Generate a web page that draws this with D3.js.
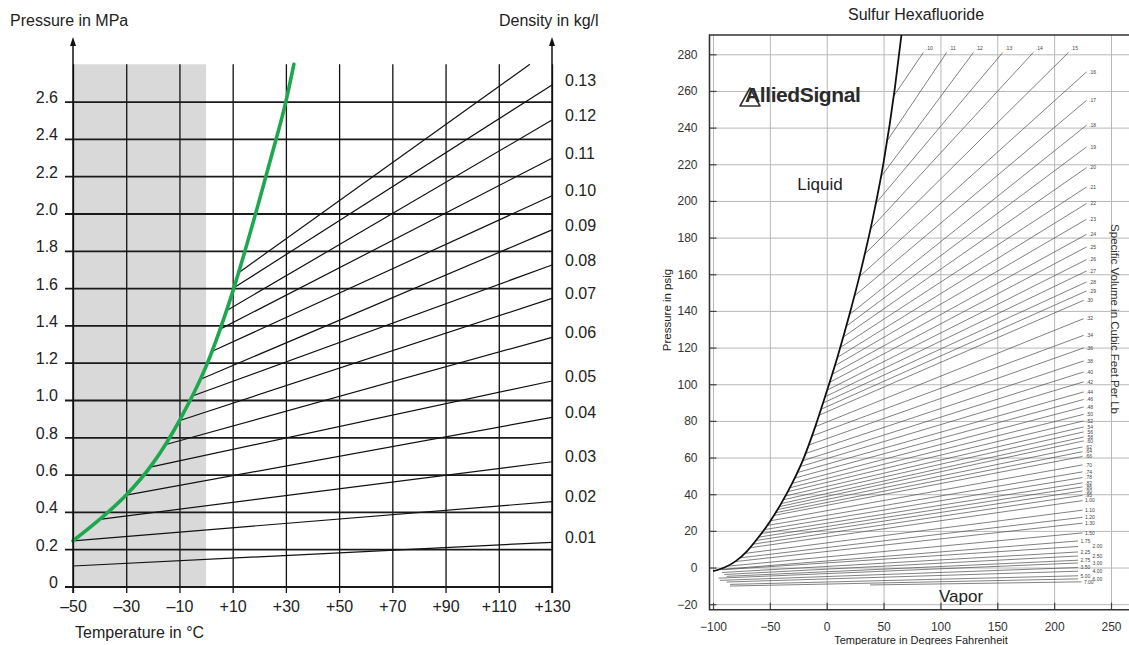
<!DOCTYPE html>
<html>
<head>
<meta charset="utf-8">
<script src="https://cdn.jsdelivr.net/npm/d3@7"></script>
<style>
  html, body { margin: 0; padding: 0; background: #fff; }
  svg { display: block; font-family: "Liberation Sans", Arial, Helvetica, sans-serif; }
</style>
</head>
<body>
<svg id="chart" width="1129" height="645"></svg>
<script>
// ---------- left chart: SF6 density lines, metric ----------
const tempTicks = [-50, -30, -10, 10, 30, 50, 70, 90, 110, 130];
const tempTickLabels = ['–50', '–30', '–10', '+10', '+30', '+50', '+70', '+90', '+110', '+130'];
const pressTicks = [0, 0.2, 0.4, 0.6, 0.8, 1.0, 1.2, 1.4, 1.6, 1.8, 2.0, 2.2, 2.4, 2.6];
const pressTickLabels = ['0', '0.2', '0.4', '0.6', '0.8', '1.0', '1.2', '1.4', '1.6', '1.8', '2.0', '2.2', '2.4', '2.6'];

// saturation (green) curve, °C / MPa
const satTempC = [-50, -40, -30, -20, -10, 0, 10, 20, 25, 30, 33];
const satPressMPa = [0.245, 0.36, 0.49, 0.66, 0.89, 1.18, 1.58, 2.07, 2.33, 2.60, 2.8];

// density lines (kg/l); last one runs out at the top and has no label
const densLabels = ['0.01', '0.02', '0.03', '0.04', '0.05', '0.06', '0.07', '0.08', '0.09', '0.10', '0.11', '0.12', '0.13', ''];
const densStartT = [-50, -50, -40, -30, -21, -15.4, -9.8, -5.4, -2.3, 2.1, 5.3, 7.8, 10.3, 12];
const densStartP = [0.11, 0.245, 0.36, 0.49, 0.64, 0.76, 0.89, 1.02, 1.11, 1.26, 1.38, 1.48, 1.60, 1.68];
const densEndT = [130, 130, 130, 130, 130, 130, 130, 130, 130, 130, 130, 130, 130, 121.7];
const densEndP = [0.237, 0.455, 0.669, 0.907, 1.102, 1.336, 1.545, 1.724, 1.912, 2.095, 2.296, 2.501, 2.689, 2.8];

// ---------- right chart: Sulfur Hexafluoride, imperial ----------
const fTicks = [-100, -50, 0, 50, 100, 150, 200, 250];
const psiTicks = [-20, 0, 20, 40, 60, 80, 100, 120, 140, 160, 180, 200, 220, 240, 260, 280];

const satF = [-100, -90, -80, -70, -60, -50, -40, -30, -20, -10, 0, 10, 20, 30, 40, 50, 60, 66];
const satPsig = [-2, 0, 3.5, 9, 16.5, 25, 35, 46.5, 60, 77, 96, 116, 138, 162, 189, 221, 262, 292];

const volLabels = ['.10', '.11', '.12', '.13', '.14', '.15',
  '.16', '.17', '.18', '.19', '.20', '.21', '.22', '.23', '.24', '.25', '.26', '.27', '.28', '.29', '.30',
  '.32', '.34', '.36', '.38', '.40', '.42', '.44', '.46', '.48', '.50', '.52', '.54', '.56', '.58', '.60',
  '.62', '.64', '.66', '.70', '.74', '.78', '.82', '.86', '.90', '.95', '1.00',
  '1.10', '1.20', '1.30', '1.50', '1.75',
  '2.00', '2.25', '2.50', '2.75', '3.00', '3.50', '4.00', '5.00', '6.00', '7.00'];
const volStartF = [58.8, 52.8, 47.5, 43.0, 38.4, 33.3,
  28.6, 24.2, 20.0, 17.1, 14.4, 11.8, 9.3, 7.0, 4.7, 2.5, 0.4, -1.5, -3.3, -5.1, -6.8,
  -10.1, -13.1, -16.0, -18.7, -21.3, -23.7, -26.1, -28.3, -30.5, -32.6, -34.5, -36.5, -38.3, -40.1, -41.8,
  -43.4, -45.1, -46.6, -49.5, -52.4, -55.1, -57.6, -59.9, -62.3, -65.0, -67.6,
  -72.4, -76.8, -80.8, -88.0, -95.9,
  -92, -92, -90, -88, -95, -94, -88, -85, -85, 38];
// null = the line leaves the saturation curve
const volStartP = [null, null, null, null, null, null,
  null, null, null, null, null, null, null, null, null, null, null, null, null, null, null,
  null, null, null, null, null, null, null, null, null, null, null, null, null, null, null,
  null, null, null, null, null, null, null, null, null, null, null,
  null, null, null, null, null,
  -1.2, -2.7, -3.8, -4.8, -5.8, -7.0, -7.9, -9.2, -10.1, -9.5];
const volEndF = [85, 105.5, 129, 154.8, 181.7, 212.6,
  228.5, 228.5, 228.5, 228.5, 228.5, 228.5, 228.5, 228.5, 228.5, 228.5, 228.5, 228.5, 228.5, 228.5, 226,
  226, 226, 226, 226, 226, 226, 226, 226, 226, 226, 226, 226, 226, 226, 226,
  225, 225, 225, 225, 225, 225, 225, 225, 225, 225, 225,
  225, 225, 225, 225, 221,
  221, 221, 221, 221, 221, 221, 221, 221, 221, 224];
const volEndP = [281, 281, 281, 281, 281, 281,
  270.4, 254.9, 241.3, 229.5, 218.2, 207.6, 198.6, 190.0, 181.8, 174.9, 168.0, 161.8, 155.8, 150.9, 145.8,
  135.8, 126.7, 119.8, 112.7, 106.7, 101.3, 95.8, 91.7, 87.6, 83.6, 80.0, 76.7, 74.0, 71.2, 69.1,
  65.8, 63.2, 60.6, 56.0, 52.2, 49.1, 46.2, 44.0, 41.8, 39.4, 36.5,
  31.3, 27.4, 24.2, 18.9, 14.5,
  11.5, 8.5, 6.3, 4.0, 2.5, 0.0, -2.0, -4.5, -6.2, -7.8];

const FONT = '"Liberation Sans", Arial, Helvetica, sans-serif';
const svg = d3.select('#chart');
svg.append('rect').attr('width', 1129).attr('height', 645).attr('fill', '#fff');

// ================= LEFT =================
const lx = d3.scaleLinear().domain([-50, 130]).range([73, 552]);
const ly = d3.scaleLinear().domain([0, 2.8]).range([586.5, 64.3]);
const left = svg.append('g');

left.append('rect')
  .attr('x', lx(-50)).attr('y', ly(2.8))
  .attr('width', lx(0) - lx(-50)).attr('height', ly(0) - ly(2.8))
  .attr('fill', '#d9d9d9');

// vertical grid + temperature labels
left.append('g')
  .attr('transform', 'translate(0,593)')
  .call(d3.axisBottom(lx).tickValues(tempTicks)
    .tickFormat((d, i) => tempTickLabels[i])
    .tickSizeInner(-(593 - ly(2.8))).tickSizeOuter(0).tickPadding(8))
  .call(g => {
    g.select('.domain').remove();
    g.attr('font-family', FONT).attr('font-size', 16);
    g.selectAll('line').attr('stroke', '#111').attr('stroke-width', 1.3);
    g.selectAll('text').attr('fill', '#222');
  });

// horizontal grid + pressure labels
left.append('g')
  .attr('transform', 'translate(65,0)')
  .call(d3.axisLeft(ly).tickValues(pressTicks)
    .tickFormat((d, i) => pressTickLabels[i])
    .tickSizeInner(-(552 - 65)).tickSizeOuter(0).tickPadding(7))
  .call(g => {
    g.select('.domain').remove();
    g.attr('font-family', FONT).attr('font-size', 16);
    g.selectAll('line').attr('stroke', '#1a1a1a').attr('stroke-width', 1.8);
    g.selectAll('text').attr('fill', '#222').attr('dy', '0.06em');
  });

// density lines
left.append('g')
  .selectAll('line')
  .data(densLabels)
  .join('line')
  .attr('x1', (d, i) => lx(densStartT[i]))
  .attr('y1', (d, i) => ly(densStartP[i]))
  .attr('x2', (d, i) => lx(densEndT[i]))
  .attr('y2', (d, i) => ly(densEndP[i]))
  .attr('stroke', '#111')
  .attr('stroke-width', 1.2);

// saturation curve
const satLineL = d3.line()
  .x((d, i) => lx(satTempC[i]))
  .y((d, i) => ly(satPressMPa[i]))
  .curve(d3.curveMonotoneX);
left.append('path')
  .datum(satTempC)
  .attr('d', satLineL)
  .attr('fill', 'none')
  .attr('stroke', '#1da84f')
  .attr('stroke-width', 3.6)
  .attr('stroke-linecap', 'round');

// axes with arrow heads
[lx(-50), lx(130)].forEach(x => {
  left.append('line')
    .attr('x1', x).attr('x2', x).attr('y1', 593).attr('y2', 44)
    .attr('stroke', '#111').attr('stroke-width', 1.5);
  left.append('path')
    .attr('d', `M${x},37 L${x - 3},46 L${x + 3},46 Z`)
    .attr('fill', '#111');
});

// density labels
left.append('g')
  .attr('font-family', FONT).attr('font-size', 16).attr('fill', '#222')
  .selectAll('text')
  .data(densLabels.filter(d => d))
  .join('text')
  .attr('x', lx(130) + 13)
  .attr('y', (d, i) => ly(densEndP[i]) - 5)
  .attr('dy', '0.35em')
  .text(d => d);

left.append('text').attr('x', 10).attr('y', 26)
  .attr('font-family', FONT).attr('font-size', 16).attr('fill', '#222')
  .text('Pressure in MPa');
left.append('text').attr('x', 499).attr('y', 26)
  .attr('font-family', FONT).attr('font-size', 16).attr('fill', '#222')
  .text('Density in kg/l');
left.append('text').attr('x', 75).attr('y', 638)
  .attr('font-family', FONT).attr('font-size', 16).attr('fill', '#222')
  .text('Temperature in °C');

// ================= RIGHT =================
const rx = d3.scaleLinear().domain([-100, 250]).range([713, 1111]);
const ry = d3.scaleLinear().domain([-20, 280]).range([604.2, 54.3]);
const frameL = 709.5, frameT = 35, frameB = 609.7, frameR = 1129;
const right = svg.append('g');

svg.append('defs').append('clipPath').attr('id', 'rclip')
  .append('rect')
  .attr('x', frameL).attr('y', frameT)
  .attr('width', frameR - frameL).attr('height', frameB - frameT);

right.append('text')
  .attr('x', 916).attr('y', 20)
  .attr('text-anchor', 'middle')
  .attr('font-family', FONT).attr('font-size', 16).attr('fill', '#222')
  .text('Sulfur Hexafluoride');

// grid with labels
right.append('g')
  .attr('transform', `translate(${frameL},0)`)
  .call(d3.axisLeft(ry).tickValues(psiTicks)
    .tickSizeInner(-(frameR - frameL)).tickSizeOuter(0).tickPadding(12))
  .call(g => {
    g.select('.domain').remove();
    g.attr('font-family', FONT).attr('font-size', 12);
    g.selectAll('line').attr('stroke', '#b8b8b8').attr('stroke-width', 1);
    g.selectAll('text').attr('fill', '#333');
  });
right.append('g')
  .attr('transform', `translate(0,${frameB})`)
  .call(d3.axisBottom(rx).tickValues(fTicks)
    .tickSizeInner(-(frameB - frameT)).tickSizeOuter(0).tickPadding(13))
  .call(g => {
    g.select('.domain').remove();
    g.attr('font-family', FONT).attr('font-size', 12);
    g.selectAll('line').attr('stroke', '#b8b8b8').attr('stroke-width', 1);
    g.selectAll('text').attr('fill', '#333');
  });

// short dark ticks on the frame
right.append('g')
  .attr('transform', `translate(${frameL},0)`)
  .call(d3.axisLeft(ry).tickValues(psiTicks).tickFormat('').tickSizeInner(-7).tickSizeOuter(0))
  .call(g => {
    g.select('.domain').remove();
    g.selectAll('line').attr('stroke', '#444').attr('stroke-width', 1.2);
  });
right.append('g')
  .attr('transform', `translate(0,${frameB})`)
  .call(d3.axisBottom(rx).tickValues(fTicks).tickFormat('').tickSizeInner(-7).tickSizeOuter(0))
  .call(g => {
    g.select('.domain').remove();
    g.selectAll('line').attr('stroke', '#444').attr('stroke-width', 1.2);
  });

// frame
right.append('path')
  .attr('d', `M${frameR},${frameT} H${frameL} V${frameB} H${frameR}`)
  .attr('fill', 'none')
  .attr('stroke', '#333')
  .attr('stroke-width', 1.6);

// where a line leaves the saturation curve
function satAt(f) {
  const i = Math.max(1, Math.min(satF.length - 1, d3.bisectLeft(satF, f)));
  const t = (f - satF[i - 1]) / (satF[i] - satF[i - 1]);
  return satPsig[i - 1] + t * (satPsig[i] - satPsig[i - 1]);
}

const plot = right.append('g').attr('clip-path', 'url(#rclip)');

plot.append('g')
  .selectAll('line')
  .data(volLabels)
  .join('line')
  .attr('x1', (d, i) => rx(volStartF[i]))
  .attr('y1', (d, i) => ry(volStartP[i] === null ? satAt(volStartF[i]) : volStartP[i]))
  .attr('x2', (d, i) => rx(volEndF[i]))
  .attr('y2', (d, i) => ry(volEndP[i]))
  .attr('stroke', '#4a4a4a')
  .attr('stroke-width', 0.7);

const satLineR = d3.line()
  .x((d, i) => rx(satF[i]))
  .y((d, i) => ry(satPsig[i]))
  .curve(d3.curveMonotoneX);
plot.append('path')
  .datum(satF)
  .attr('d', satLineR)
  .attr('fill', 'none')
  .attr('stroke', '#111')
  .attr('stroke-width', 1.8);

// specific volume labels; the crowded bottom ones alternate between two columns
const crowdedFrom = volLabels.indexOf('1.75');
right.append('g')
  .attr('font-family', FONT).attr('font-size', 5).attr('fill', '#444')
  .selectAll('text')
  .data(volLabels)
  .join('text')
  .attr('x', (d, i) => rx(volEndF[i]) + 2.5 + (i >= crowdedFrom && (i - crowdedFrom) % 2 ? 12 : 0))
  .attr('y', (d, i) => ry(volEndP[i]) - (i < 6 ? 4 : 0))
  .attr('dy', '0.35em')
  .text(d => d);

right.append('text')
  .attr('x', 820).attr('y', 190)
  .attr('text-anchor', 'middle')
  .attr('font-family', FONT).attr('font-size', 17).attr('fill', '#222')
  .text('Liquid');
right.append('text')
  .attr('x', 961).attr('y', 602)
  .attr('text-anchor', 'middle')
  .attr('font-family', FONT).attr('font-size', 17).attr('fill', '#222')
  .text('Vapor');

right.append('text')
  .attr('transform', 'translate(671,310) rotate(-90)')
  .attr('text-anchor', 'middle')
  .attr('font-family', FONT).attr('font-size', 11.5).attr('fill', '#222')
  .text('Pressure in psig');
right.append('text')
  .attr('x', 921).attr('y', 644)
  .attr('text-anchor', 'middle')
  .attr('font-family', FONT).attr('font-size', 11).attr('fill', '#222')
  .text('Temperature in Degrees Fahrenheit');
right.append('text')
  .attr('transform', 'translate(1111,319) rotate(90)')
  .attr('text-anchor', 'middle')
  .attr('font-family', FONT).attr('font-size', 11.5).attr('fill', '#333')
  .text('Specific Volume in Cubic Feet Per Lb');

// AlliedSignal logo
right.append('path')
  .attr('d', 'M740,106 L750,88 L760,106 Z')
  .attr('fill', 'none')
  .attr('stroke', '#333')
  .attr('stroke-width', 1.6)
  .attr('stroke-linejoin', 'round');
right.append('text')
  .attr('x', 745).attr('y', 102)
  .attr('font-family', FONT).attr('font-size', 21).attr('font-weight', 'bold')
  .attr('fill', '#2a2a2a')
  .attr('letter-spacing', -0.4)
  .text('AlliedSignal');
</script>
</body>
</html>
